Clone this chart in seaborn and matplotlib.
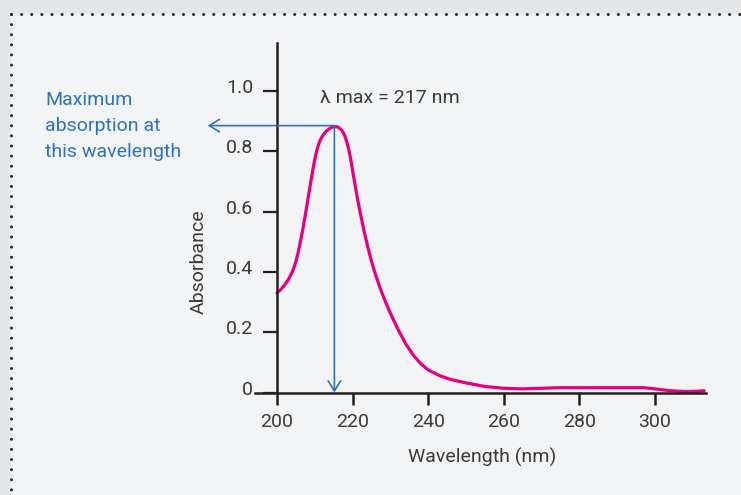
import numpy as np
import matplotlib
matplotlib.use("Agg")
import matplotlib.pyplot as plt
import matplotlib.transforms as mtransforms
from matplotlib.lines import Line2D
from matplotlib.patches import Rectangle
import seaborn as sns

# --- Data ---
wavelength = [200, 201, 202, 203, 204, 204.5, 205, 205.5, 206, 206.5, 207, 207.5,
              208, 208.5, 209, 209.5, 210, 210.5, 211, 211.5, 212, 213, 214,
              215, 216, 217, 217.5, 218, 218.5, 219, 219.5, 220, 220.5, 221,
              221.5, 222, 223, 224, 225, 226, 227, 228, 229, 230, 232, 234, 236,
              238, 240, 243, 246, 250, 255, 260, 265, 270, 275, 280, 290, 297,
              300, 304, 308, 311, 313]
absorbance = [0.330, 0.341, 0.356, 0.374, 0.398, 0.414, 0.434, 0.458, 0.487,
              0.518, 0.552, 0.588, 0.626, 0.664, 0.702, 0.738, 0.772, 0.800,
              0.822, 0.838, 0.850, 0.866, 0.876, 0.882, 0.881, 0.872, 0.863,
              0.850, 0.830, 0.806, 0.775, 0.738, 0.700, 0.664, 0.630, 0.598,
              0.538, 0.484, 0.436, 0.394, 0.357, 0.323, 0.292, 0.263, 0.210,
              0.163, 0.125, 0.096, 0.075, 0.056, 0.043, 0.032, 0.020, 0.014,
              0.012, 0.014, 0.016, 0.016, 0.016, 0.016, 0.012, 0.006, 0.003,
              0.004, 0.006]

lambda_max = 215.2
peak_abs = 0.885

x_ticks = [200, 220, 240, 260, 280, 300]
y_ticks = [0, 0.2, 0.4, 0.6, 0.8, 1.0]
y_tick_labels = ['0', '0.2', '0.4', '0.6', '0.8', '1.0']

# --- Colours ---
LINE_PINK = '#E6007E'
ARROW_BLUE = '#2E72B8'
TEXT_DARK = '#3A3A3A'
AXIS_DARK = '#231F20'
PANEL_BG = '#F2F3F5'
OUTER_BG = '#E5E6E8'

sns.set_theme(style='white')
plt.rcParams['font.family'] = ['Roboto', 'DejaVu Sans']

fig = plt.figure(figsize=(7.41, 4.95), dpi=100)
fig.patch.set_facecolor(OUTER_BG)
W, H = 741, 495

# inner panel + dotted border (kept behind the axes)
fig.patches.append(Rectangle((11 / W, 0), 1, 1 - 14 / H, transform=fig.transFigure,
                             facecolor=PANEL_BG, edgecolor='none', zorder=-2))
dot_style = dict(color='#2B2B2B', lw=2.2, linestyle=(0, (0.01, 3.3)),
                 dash_capstyle='round', transform=fig.transFigure, zorder=-1)
fig.lines.append(Line2D([11 / W, 1], [1 - 14 / H, 1 - 14 / H], **dot_style))
fig.lines.append(Line2D([11 / W, 11 / W], [1 - 14 / H, 0], **dot_style))

ax = fig.add_axes([255 / W, 1 - 392.5 / H, (706 - 255) / W, (392.5 - 43) / H])
ax.set_facecolor('none')

sns.lineplot(x=wavelength, y=absorbance, color=LINE_PINK, lw=2.3, ax=ax)

ax.set_xlim(194.2, 313.5)
ax.set_ylim(0, 1.159)

# --- Spines and ticks ---
for side in ['top', 'right']:
    ax.spines[side].set_visible(False)
ax.spines['left'].set_position(('data', 200))
for side in ['left', 'bottom']:
    ax.spines[side].set_linewidth(1.8)
    ax.spines[side].set_color(AXIS_DARK)

ax.set_xticks(x_ticks)
ax.set_yticks(y_ticks)
ax.set_yticklabels(y_tick_labels)
ax.tick_params(axis='y', direction='out', length=10, width=1.6, pad=7,
               color=AXIS_DARK, labelsize=14, labelcolor=TEXT_DARK, left=True)
ax.tick_params(axis='x', direction='out', length=8.5, width=1.8, pad=6,
               color=AXIS_DARK, labelsize=14, labelcolor=TEXT_DARK, bottom=True)

# y labels sit a little above their ticks in the original
lift = mtransforms.ScaledTranslation(0, 3.5 / 72, fig.dpi_scale_trans)
for label in ax.get_yticklabels():
    label.set_transform(label.get_transform() + lift)

ax.set_xlabel('Wavelength (nm)', fontsize=14, color=TEXT_DARK, va='center')
ax.xaxis.set_label_coords(0.504, -0.187)
ax.set_ylabel('Absorbance', fontsize=14, color=TEXT_DARK, va='center')
ax.yaxis.set_label_coords(-0.124, 0.3745)

# --- Annotations ---
ax.text(211.4, 0.977, 'λ max = 217 nm', fontsize=14, color=TEXT_DARK,
        ha='left', va='center')

arrow = dict(arrowstyle='->,head_length=0.45,head_width=0.28', color=ARROW_BLUE,
             lw=1.2, shrinkA=0, shrinkB=0, mutation_scale=16)
ax.annotate('', xy=(181.7, peak_abs), xytext=(lambda_max, peak_abs),
            arrowprops=arrow, annotation_clip=False)
ax.annotate('', xy=(lambda_max, 0.0), xytext=(lambda_max, peak_abs),
            arrowprops=arrow, annotation_clip=False)

fig.text(45 / W, 1 - 91 / H, 'Maximum\nabsorption at\nthis wavelength',
         fontsize=14, color=ARROW_BLUE, ha='left', va='top', linespacing=1.58)

fig.savefig('out.png', dpi=100, facecolor=fig.get_facecolor())
